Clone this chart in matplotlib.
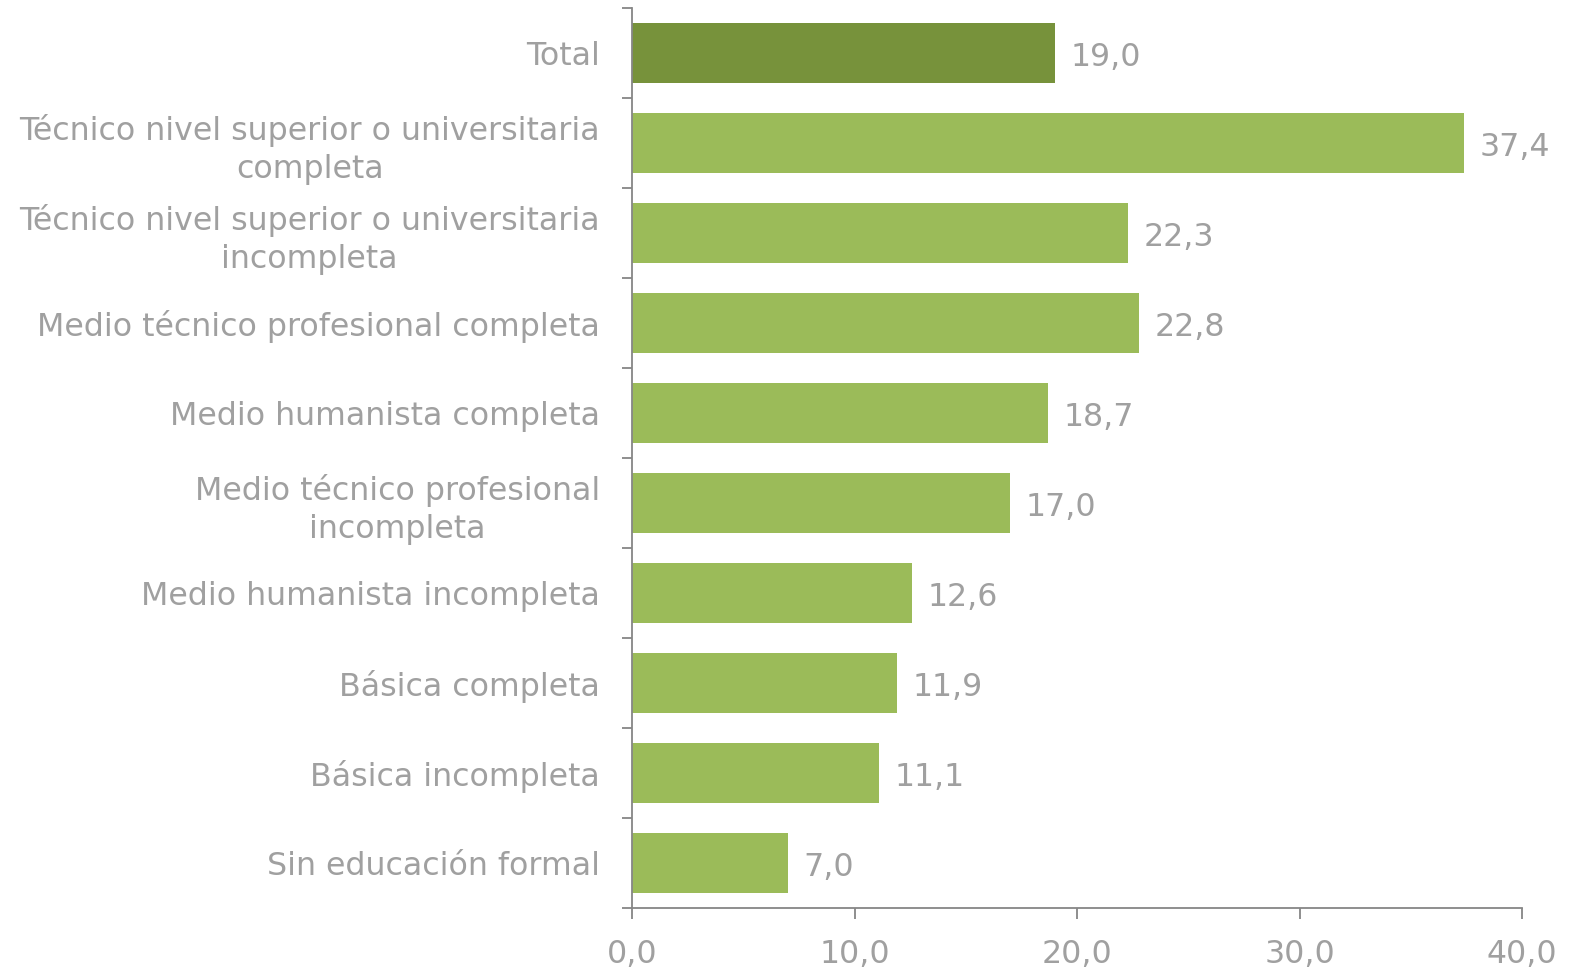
import matplotlib
matplotlib.use("Agg")
import matplotlib.pyplot as plt
from matplotlib.ticker import FixedLocator, FuncFormatter

categories = [
    "Total",
    "Técnico nivel superior o universitaria\ncompleta",
    "Técnico nivel superior o universitaria\nincompleta",
    "Medio técnico profesional completa",
    "Medio humanista completa",
    "Medio técnico profesional\nincompleta",
    "Medio humanista incompleta",
    "Básica completa",
    "Básica incompleta",
    "Sin educación formal",
]
values = [19.0, 37.4, 22.3, 22.8, 18.7, 17.0, 12.6, 11.9, 11.1, 7.0]
x_ticks = [0, 10, 20, 30, 40]

text_color = "#A0A0A0"
spine_color = "#868686"
fs = 22.8

fig = plt.figure(figsize=(15.77, 9.73), dpi=100)
ax = fig.add_axes([632/1577, 1-908/973, (1522-632)/1577, 900/973])

n = len(categories)
ypos = list(range(n))
colors = ["#77923B"] + ["#9BBB59"] * (n - 1)
bars = ax.barh(ypos, values, height=0.67, color=colors)
ax.set_ylim(n - 0.5, -0.5)
ax.set_xlim(0, 40)

for y, v in zip(ypos, values):
    ax.text(v + 0.7, y + 0.05, f"{v:.1f}".replace(".", ","), va="center", ha="left",
            fontsize=fs, color=text_color)

ax.set_yticks(ypos)
ax.set_yticklabels(categories, fontsize=fs, color=text_color, multialignment="center",
                   linespacing=1.27)
ax.tick_params(axis="y", which="major", length=0, pad=23)
ax.yaxis.set_minor_locator(FixedLocator([i - 0.5 for i in range(n + 1)]))
ax.tick_params(axis="y", which="minor", length=7, width=1.3, color=spine_color, direction="out")

ax.set_xticks(x_ticks)
ax.xaxis.set_major_formatter(FuncFormatter(lambda v, p: f"{v:.1f}".replace(".", ",")))
ax.tick_params(axis="x", length=8, width=1.3, color=spine_color, labelsize=fs,
               labelcolor=text_color, pad=14)

for s in ["top", "right"]:
    ax.spines[s].set_visible(False)
for s in ["left", "bottom"]:
    ax.spines[s].set_color(spine_color)
    ax.spines[s].set_linewidth(1.3)

fig.savefig("out.png", dpi=100)
